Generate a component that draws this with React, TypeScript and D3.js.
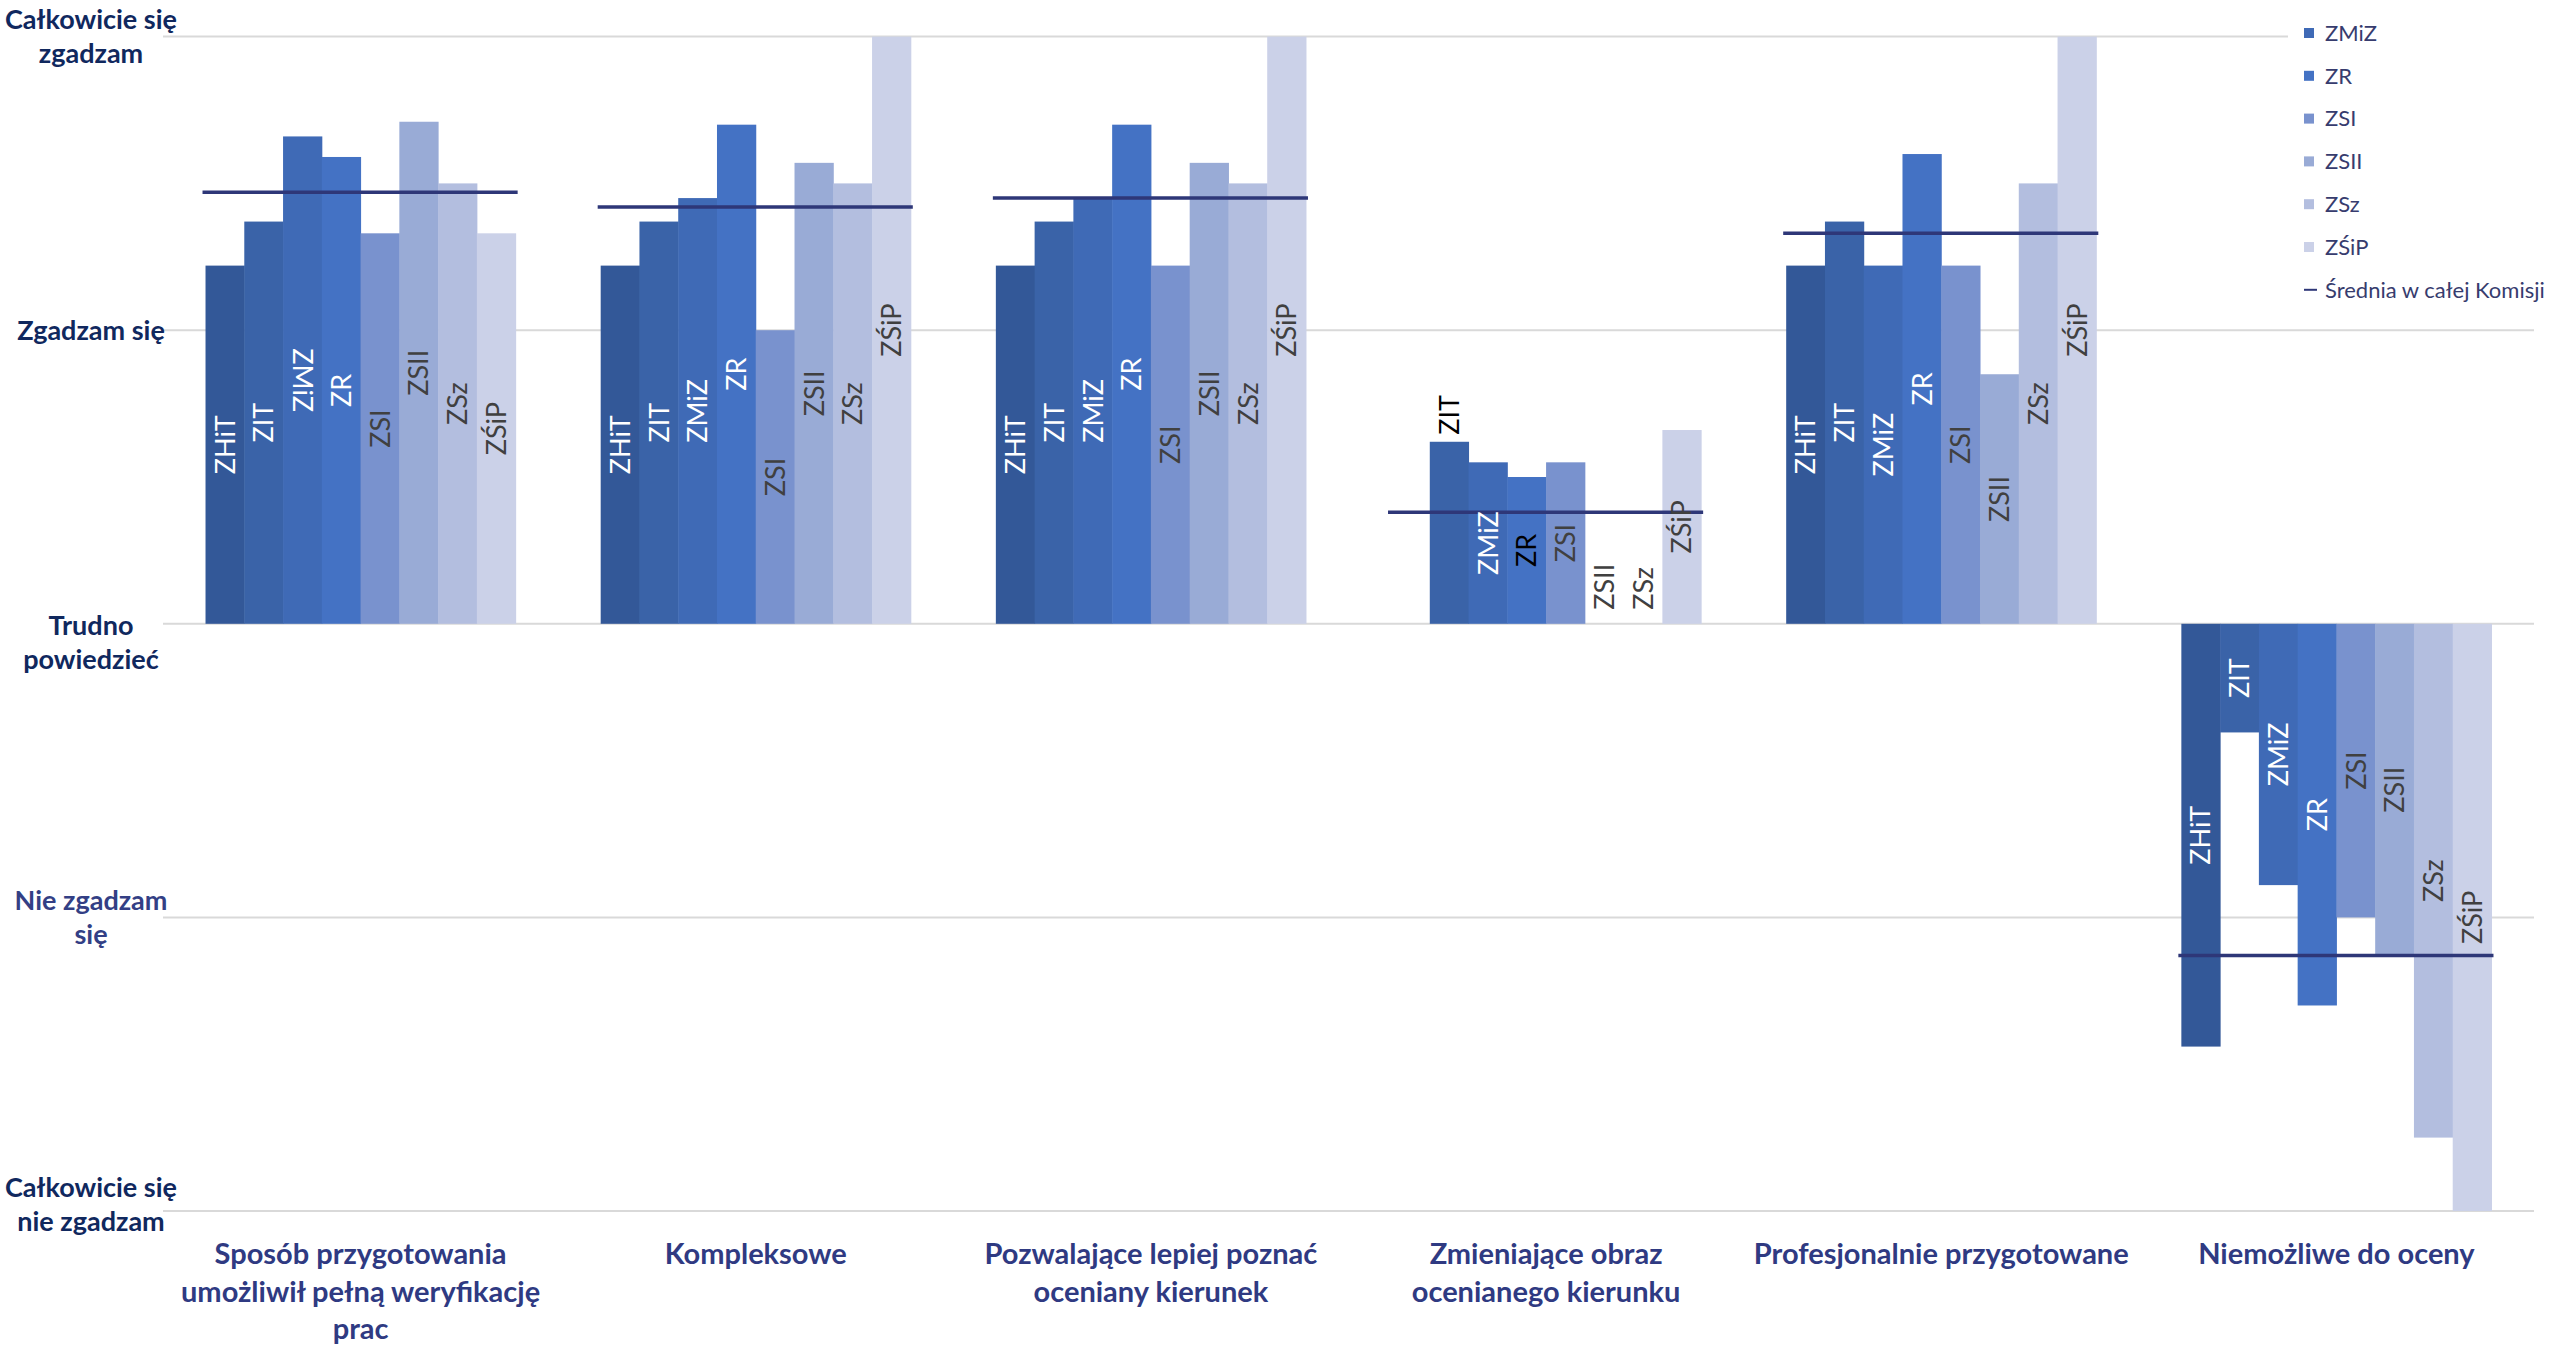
import React from "react";
import * as d3 from "d3";

// ---------- data ----------
const categories = [
  "Sposób przygotowania umożliwił pełną weryfikację prac",
  "Kompleksowe",
  "Pozwalające lepiej poznać oceniany kierunek",
  "Zmieniające obraz ocenianego kierunku",
  "Profesjonalnie przygotowane",
  "Niemożliwe do oceny",
];
const categoryLines = [
  ["Sposób przygotowania", "umożliwił pełną weryfikację", "prac"],
  ["Kompleksowe"],
  ["Pozwalające lepiej poznać", "oceniany kierunek"],
  ["Zmieniające obraz", "ocenianego kierunku"],
  ["Profesjonalnie przygotowane"],
  ["Niemożliwe do oceny"],
];

const series = ["ZHiT", "ZIT", "ZMiZ", "ZR", "ZSI", "ZSII", "ZSz", "ZŚiP"];

const valZHiT = [1.22, 1.22, 1.22, null, 1.22, -1.44];
const valZIT = [1.37, 1.37, 1.37, 0.62, 1.37, -0.37];
const valZMiZ = [1.66, 1.45, 1.45, 0.55, 1.22, -0.89];
const valZR = [1.59, 1.70, 1.70, 0.50, 1.60, -1.30];
const valZSI = [1.33, 1.0, 1.22, 0.55, 1.22, -1.0];
const valZSII = [1.71, 1.57, 1.57, 0, 0.85, -1.13];
const valZSz = [1.5, 1.5, 1.5, 0, 1.5, -1.75];
const valZSiP = [1.33, 2.0, 2.0, 0.66, 2.0, -2.0];
const seriesValues = [valZHiT, valZIT, valZMiZ, valZR, valZSI, valZSII, valZSz, valZSiP];

const averageName = "Średnia w całej Komisji";
const average = [1.47, 1.42, 1.45, 0.38, 1.33, -1.13];

const yTicks = [2, 1, 0, -1, -2];
const yTickLines = [
  ["Całkowicie się", "zgadzam"],
  ["Zgadzam się"],
  ["Trudno", "powiedzieć"],
  ["Nie zgadzam", "się"],
  ["Całkowicie się", "nie zgadzam"],
];

// ---------- styles ----------
const seriesColors = ["#335898", "#3A63A8", "#3F6AB6", "#4472C4", "#7992CE", "#99ABD6", "#B3BEDF", "#CBD1E8"];
const labelColors = ["#FFFFFF", "#FFFFFF", "#FFFFFF", "#FFFFFF", "#404040", "#404040", "#404040", "#404040"];
// special data-label placements: key = categoryIndex-seriesIndex
const labelOverrides: Record<string, { mode?: string; color?: string; flip?: boolean }> = {
  "0-2": { flip: true },
  "3-1": { mode: "outEnd", color: "#000000" },
  "3-3": { color: "#000000" },
  "3-5": { mode: "base" },
  "3-6": { mode: "base" },
};
const yLabelColors = ["#10285E", "#10285E", "#10285E", "#333F85", "#10285E"];
const yLabelOffsets = [0, 0, 19, 0, -6];

const W = 2552;
const H = 1348;
const plotLeft = 163;
const plotRight = 2534;
const FONT = "Lato, 'Open Sans', sans-serif";

export default function App() {
  const y = d3.scaleLinear().domain([-2, 2]).range([1211, 36.6]);
  const x0 = d3.scaleBand<string>().domain(categories).range([plotLeft, plotRight]).padding(0);
  const bw = x0.bandwidth();
  const groupPad = bw * 0.1076;
  const x1 = d3.scaleBand<string>().domain(series).range([groupPad, bw - groupPad]).padding(0);
  const barW = x1.bandwidth();
  const y0 = y(0);

  const legendTop = 33 - 2 * 42.8;
  const legendStep = 42.8;

  return (
    <svg
      width={W}
      height={H}
      viewBox={`0 0 ${W} ${H}`}
      style={{ position: "absolute", left: 0, top: 0, background: "#fff" }}
    >
      <rect x={0} y={0} width={W} height={H} fill="#fff" />
      {/* gridlines */}
      {yTicks.map((t) => (
        <line key={"g" + t} x1={plotLeft} x2={plotRight} y1={y(t)} y2={y(t)} stroke="#D9D9D9" strokeWidth={2} />
      ))}
      {/* legend background */}
      <rect x={2288} y={0} width={W - 2288} height={305} fill="#fff" />

      {/* bars */}
      {categories.map((c, ci) => (
        <g key={"c" + ci} transform={`translate(${x0(c)},0)`}>
          {series.map((s, si) => {
            const v = seriesValues[si][ci];
            if (v === null || v === undefined) return null;
            const yv = y(v);
            return (
              <rect
                key={s}
                x={x1(s)}
                y={Math.min(yv, y0)}
                width={barW + 0.5}
                height={Math.abs(yv - y0)}
                fill={seriesColors[si]}
              />
            );
          })}
        </g>
      ))}

      {/* average lines */}
      {categories.map((c, ci) => (
        <line
          key={"a" + ci}
          x1={(x0(c) as number) + groupPad - 3}
          x2={(x0(c) as number) + bw - groupPad + 2}
          y1={y(average[ci])}
          y2={y(average[ci])}
          stroke="#2E3778"
          strokeWidth={3.5}
        />
      ))}

      {/* data labels */}
      {categories.map((c, ci) => (
        <g key={"l" + ci}>
          {series.map((s, si) => {
            const v = seriesValues[si][ci];
            if (v === null || v === undefined) return null;
            const ov = labelOverrides[`${ci}-${si}`] || {};
            const cx = (x0(c) as number) + (x1(s) as number) + barW / 2;
            const color = ov.color || labelColors[si];
            const mode = ov.mode || "center";
            let cy = (y(v) + y0) / 2;
            let anchor = "middle";
            if (mode === "outEnd") {
              cy = y(v) - 7;
              anchor = "start";
            } else if (mode === "base") {
              cy = y0 - 14;
              anchor = "start";
            }
            return (
              <text
                key={s}
                transform={`translate(${cx},${cy}) rotate(${ov.flip ? 90 : -90})`}
                textAnchor={anchor}
                dy="0.36em"
                fontFamily={FONT}
                fontSize={27}
                fill={color}
              >
                {s}
              </text>
            );
          })}
        </g>
      ))}

      {/* y axis labels */}
      {yTicks.map((t, i) => {
        const lines = yTickLines[i];
        const lh = 34;
        const startY = y(t) + yLabelOffsets[i] - ((lines.length - 1) * lh) / 2;
        return (
          <text
            key={"y" + t}
            fontFamily={FONT}
            fontWeight={700}
            fontSize={27}
            fill={yLabelColors[i]}
            textAnchor="middle"
          >
            {lines.map((ln, k) => (
              <tspan key={k} x={91} y={startY + k * lh} dy="0.35em">
                {ln}
              </tspan>
            ))}
          </text>
        );
      })}

      {/* category labels */}
      {categories.map((c, ci) => (
        <text
          key={"cl" + ci}
          fontFamily={FONT}
          fontWeight={700}
          fontSize={29}
          fill="#2F3A82"
          textAnchor="middle"
        >
          {categoryLines[ci].map((ln, k) => (
            <tspan key={k} x={(x0(c) as number) + bw / 2} y={1264 + k * 37.5}>
              {ln}
            </tspan>
          ))}
        </text>
      ))}

      {/* legend (entries scrolled above the top edge are not visible) */}
      {series.map((s, si) => {
        const cy = legendTop + si * legendStep;
        if (cy < 12) return null;
        return (
          <g key={"lg" + s}>
            <rect x={2304} y={cy - 5} width={10} height={10} fill={seriesColors[si]} />
            <text x={2325} y={cy} dy="0.35em" fontFamily={FONT} fontSize={22} fill="#373C6E">
              {s}
            </text>
          </g>
        );
      })}
      <g>
        <line
          x1={2304}
          x2={2317}
          y1={legendTop + 8 * legendStep}
          y2={legendTop + 8 * legendStep}
          stroke="#2E3778"
          strokeWidth={2}
        />
        <text
          x={2325}
          y={legendTop + 8 * legendStep}
          dy="0.35em"
          fontFamily={FONT}
          fontSize={22}
          fill="#373C6E"
        >
          {averageName}
        </text>
      </g>
    </svg>
  );
}
